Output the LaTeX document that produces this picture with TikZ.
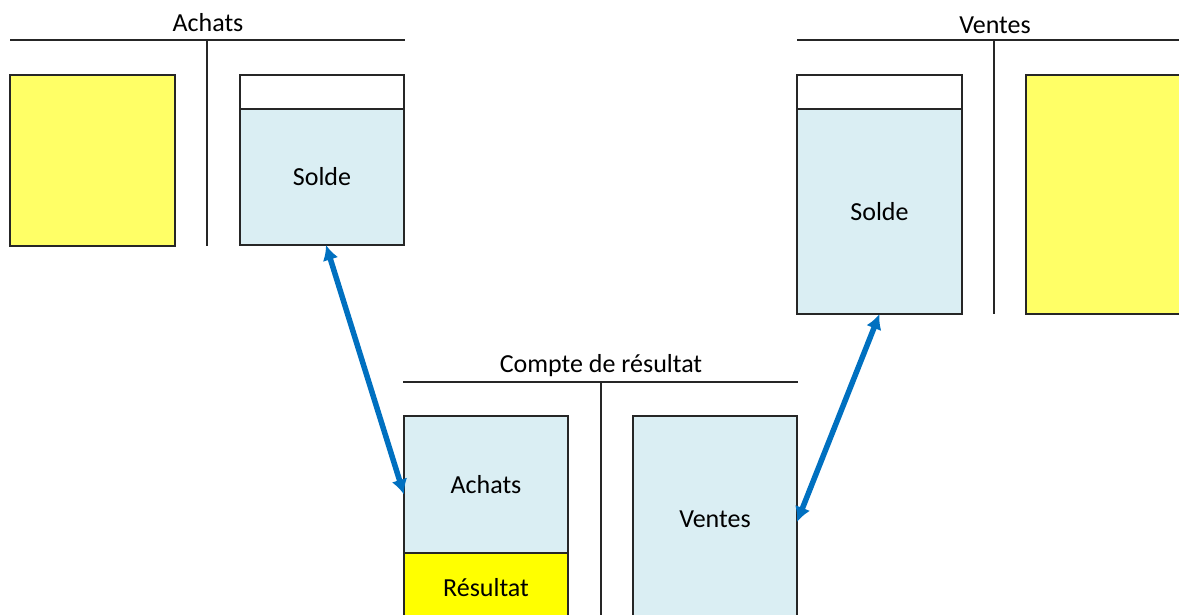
\documentclass[tikz,border=0pt]{standalone}
\usepackage{fontspec}
\setmainfont{Carlito}
\usetikzlibrary{arrows.meta}
\definecolor{paleblue}{HTML}{DAEEF3}
\definecolor{softyellow}{HTML}{FFFF66}
\definecolor{brightyellow}{HTML}{FFFF00}
\definecolor{linkblue}{HTML}{0070C0}
\definecolor{ink}{HTML}{262626}
\tikzset{
  cell/.style={draw=ink, line width=2pt, rectangle, anchor=north west,
    inner sep=0pt, outer sep=0pt, font=\fontsize{26}{30}\selectfont, text=black},
  title/.style={font=\fontsize{26}{30}\selectfont, text=black, inner sep=0pt},
  tline/.style={draw=ink, line width=2pt},
  link/.style={draw=linkblue, line width=5.5pt, {Latex[length=15pt,width=16pt]}-{Latex[length=15pt,width=16pt]}}
}
\begin{document}
\begin{tikzpicture}[x=1pt, y=-1pt]
\useasboundingbox (0,0) rectangle (1179,614);
\begin{scope}
\clip (0,0) rectangle (1179,614);

% Achats account
\node[title] (tAchats) at (208,23) {Achats};
\draw[tline] (10,40) -- (405,40);
\draw[tline] (207,40) -- (207,246);
\node[cell, fill=softyellow, minimum width=165pt, minimum height=171pt] (aDebit) at (10,75) {};
\node[cell, fill=white, minimum width=164pt, minimum height=34pt] (aTop) at (240,75) {};
\node[cell, fill=paleblue, minimum width=164pt, minimum height=136pt] (aSolde) at (240,109) {Solde};

% Ventes account
\node[title] (tVentes) at (995,25) {Ventes};
\draw[tline] (797,40) -- (1185,40);
\draw[tline] (994,40) -- (994,314);
\node[cell, fill=white, minimum width=165pt, minimum height=34pt] (vTop) at (797,75) {};
\node[cell, fill=paleblue, minimum width=165pt, minimum height=205pt] (vSolde) at (797,109) {Solde};
\node[cell, fill=softyellow, minimum width=165pt, minimum height=239pt] (vCredit) at (1026,75) {};

% Income statement
\node[title] (tCR) at (601,366) {Compte de résultat};
\draw[tline] (403,382) -- (798,382);
\draw[tline] (601,382) -- (601,625);
\node[cell, fill=paleblue, minimum width=164pt, minimum height=137pt] (crAchats) at (404,416) {Achats};
\node[cell, fill=brightyellow, minimum width=164pt, minimum height=70pt] (crRes) at (404,553) {Résultat};
\node[cell, fill=paleblue, minimum width=164pt, minimum height=206pt] (crVentes) at (633,416) {Ventes};
\end{scope}

% Transfers of balances
\draw[link] ([xshift=4pt]aSolde.south) -- ([yshift=-10pt]crAchats.west);
\draw[link] (vSolde.south) -- ([yshift=-3pt]crVentes.east);
\end{tikzpicture}
\end{document}
